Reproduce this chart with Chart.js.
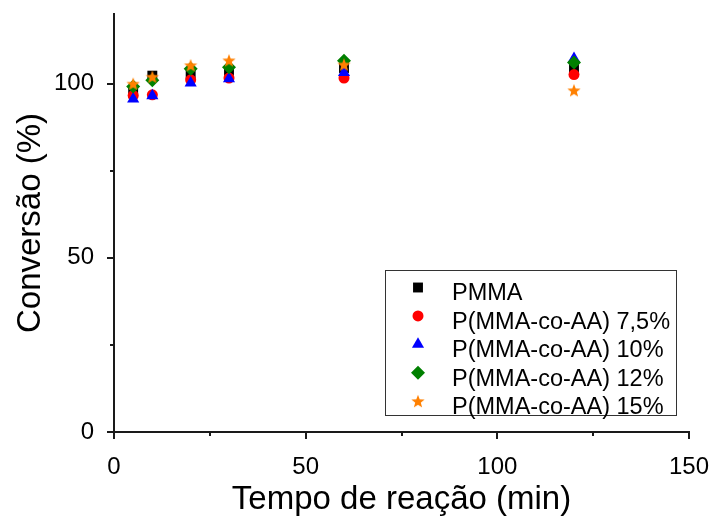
<!DOCTYPE html>
<html>
<head>
<meta charset="utf-8">
<script src="https://cdn.jsdelivr.net/npm/chart.js@4"></script>
<style>
  html, body { margin: 0; padding: 0; background: #fff; }
  #wrap { width: 713px; height: 520px; }
</style>
</head>
<body>
<div id="wrap"><canvas id="scatter" width="713" height="520"></canvas></div>
<script>
// reaction time (min)
const times = [5, 10, 20, 30, 60, 120];
const seriesNames = ['PMMA', 'P(MMA-co-AA) 7,5%', 'P(MMA-co-AA) 10%', 'P(MMA-co-AA) 12%', 'P(MMA-co-AA) 15%'];
// conversion (%)
const pmma = [97.5, 102.3, 102.8, 103.7, 104.5, 104.5];
const aa75 = [96.6, 96.8, 101.1, 101.6, 101.6, 102.6];
const aa10 = [95.6, 96.5, 100.2, 101.4, 103.2, 107.2];
const aa12 = [99.2, 101.0, 104.3, 104.7, 106.6, 106.1];
const aa15 = [100.0, 102.0, 105.3, 106.7, 105.5, 98.1];
const xTicks = [0, 50, 100, 150];
const yTicks = [0, 50, 100];

const FONT = "Arial, 'Liberation Sans', sans-serif";

// filled five point star (chart.js 'star' is only a line cross)
function makeStar(color, r) {
    const c = document.createElement('canvas');
    const s = Math.ceil(r * 2 + 2);
    c.width = s; c.height = s;
    const g = c.getContext('2d');
    g.fillStyle = color;
    g.beginPath();
    for (let i = 0; i < 10; i++) {
        const rad = i % 2 === 0 ? r : r * 0.42;
        const a = -Math.PI / 2 + i * Math.PI / 5;
        const px = s / 2 + rad * Math.cos(a), py = s / 2 + rad * Math.sin(a) + r * 0.1;
        if (i === 0) g.moveTo(px, py); else g.lineTo(px, py);
    }
    g.closePath();
    g.fill();
    return c;
}
const starImg = makeStar('#ff8000', 7);

const toPts = arr => arr.map((v, i) => ({ x: times[i], y: v }));

const datasets = [
    { label: seriesNames[0], data: toPts(pmma), pointStyle: 'rect', pointRadius: 7, backgroundColor: '#000000', borderColor: '#000000', order: 5 },
    { label: seriesNames[1], data: toPts(aa75), pointStyle: 'circle', pointRadius: 5.5, backgroundColor: '#ff0000', borderColor: '#ff0000', order: 4 },
    { label: seriesNames[2], data: toPts(aa10), pointStyle: 'triangle', pointRadius: 7, backgroundColor: '#0000ff', borderColor: '#0000ff', order: 3 },
    { label: seriesNames[3], data: toPts(aa12), pointStyle: 'rectRot', pointRadius: 7, backgroundColor: '#008000', borderColor: '#008000', order: 2 },
    { label: seriesNames[4], data: toPts(aa15), pointStyle: starImg, pointRadius: 7, backgroundColor: '#ff8000', borderColor: '#ff8000', order: 1 }
];
datasets.forEach(d => { d.borderWidth = 0; d.pointHoverRadius = d.pointRadius; });

// ticks (major + minor, outward) and the legend box inside the plot
const axisExtras = {
    id: 'axisExtras',
    afterDraw(chart) {
        const c = chart.ctx, xs = chart.scales.x, ys = chart.scales.y;
        const area = chart.chartArea;
        c.save();
        c.strokeStyle = '#1a1a1a';
        c.lineWidth = 2;
        c.beginPath();
        for (let v = 0; v <= 150; v += 25) {
            const px = Math.round(xs.getPixelForValue(v));
            const len = v % 50 === 0 ? 7 : 4;
            c.moveTo(px, area.bottom); c.lineTo(px, area.bottom + len);
        }
        for (let v = 0; v <= 120; v += 25) {
            const py = Math.round(ys.getPixelForValue(v));
            const len = v % 50 === 0 ? 7 : 4;
            c.moveTo(area.left, py); c.lineTo(area.left - len, py);
        }
        c.stroke();

        // legend
        const bx = 385.5, by = 270.5, bw = 291, bh = 145;
        c.lineWidth = 1;
        c.strokeStyle = '#333';
        c.strokeRect(bx, by, bw, bh);
        c.font = '23.5px ' + FONT;
        c.textBaseline = 'middle';
        c.textAlign = 'left';
        chart.data.datasets.forEach((d, i) => {
            const cy = 293 + i * 28.4;
            const my = cy - 5.5;
            const opts = { pointStyle: d.pointStyle, radius: d.pointRadius, borderWidth: 0, rotation: 0 };
            c.fillStyle = d.backgroundColor;
            c.strokeStyle = d.borderColor;
            if (d.pointStyle instanceof HTMLCanvasElement) {
                const w = d.pointStyle.width;
                c.drawImage(d.pointStyle, 418 - w / 2, my - w / 2, w, w);
            } else {
                Chart.helpers.drawPoint(c, opts, 418, my);
            }
            c.fillStyle = '#000';
            c.fillText(d.label, 452, cy + 1);
        });
        c.restore();
    }
};

const ctx = document.getElementById('scatter').getContext('2d');

const chart = new Chart(ctx, {
    type: 'scatter',
    data: { datasets: datasets },
    options: {
        responsive: false,
        animation: false,
        layout: { padding: { top: 14, right: 24, left: 0, bottom: 0 } },
        plugins: {
            legend: { display: false },
            tooltip: { enabled: false }
        },
        scales: {
            x: {
                type: 'linear',
                min: 0, max: 150,
                afterFit: s => { s.height = 88; s.paddingLeft = 0; s.paddingRight = 0; },
                afterBuildTicks: s => { s.ticks = xTicks.map(v => ({ value: v })); },
                grid: { display: false },
                border: { display: true, color: '#1a1a1a', width: 2 },
                ticks: { color: '#000', padding: 13, maxRotation: 0, font: { family: FONT, size: 24 } },
                title: { display: true, text: 'Tempo de reação (min)', color: '#000', padding: { top: 0, bottom: 0 }, font: { family: FONT, size: 33 } }
            },
            y: {
                type: 'linear',
                min: 0, max: 120,
                afterFit: s => { s.width = 114; s.paddingTop = 0; s.paddingBottom = 0; },
                afterBuildTicks: s => { s.ticks = yTicks.map(v => ({ value: v })); },
                grid: { display: false },
                border: { display: true, color: '#1a1a1a', width: 2 },
                ticks: { color: '#000', padding: 12, font: { family: FONT, size: 24 } },
                title: { display: true, text: 'Conversão (%)', color: '#000', padding: { top: 11, bottom: 0 }, font: { family: FONT, size: 33 } }
            }
        }
    },
    plugins: [axisExtras]
});
</script>
</body>
</html>
